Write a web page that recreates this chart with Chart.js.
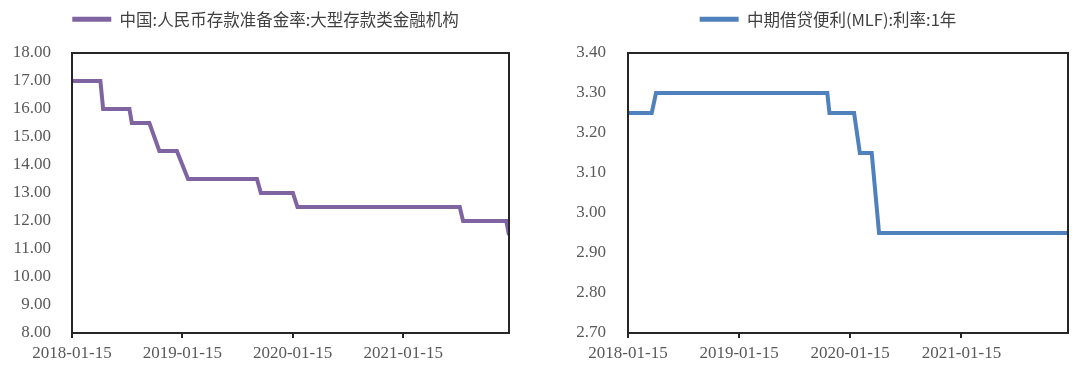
<!DOCTYPE html>
<html lang="zh-CN">
<head>
<meta charset="UTF-8">
<title>存款准备金率与MLF利率</title>
<script src="https://cdn.jsdelivr.net/npm/chart.js@4"></script>
<style>
  body { margin: 0; background: #fff; }
  .wrap { display: flex; width: 1080px; height: 369px; }
  .box { width: 540px; height: 369px; }
</style>
</head>
<body>
<div class="wrap">
  <div class="box"><canvas id="rrrChart" width="540" height="369"></canvas></div>
  <div class="box"><canvas id="mlfChart" width="540" height="369"></canvas></div>
</div>
<script>
// x axis: days counted from startDate
const startDate = '2018-01-15';
const endDate = '2021-12-31';
const xTickDates = ['2018-01-15', '2019-01-15', '2020-01-15', '2021-01-15'];

// left: reserve requirement ratio, large institutions (%)
const rrrLabel = '中国:人民币存款准备金率:大型存款类金融机构';
const rrrDates = ['2018-01-15', '2018-04-19', '2018-04-28', '2018-07-24', '2018-08-01',
  '2018-09-28', '2018-10-31', '2018-12-28', '2019-02-03', '2019-09-19', '2019-10-02',
  '2020-01-16', '2020-01-31', '2021-07-21', '2021-08-01', '2021-12-22', '2021-12-31'];
const rrrValues = [17, 17, 16, 16, 15.5, 15.5, 14.5, 14.5, 13.5, 13.5, 13, 13, 12.5, 12.5, 12, 12, 11.5];
const rrrYMin = 8, rrrYMax = 18, rrrYStep = 1;

// right: MLF 1Y rate (%)
const mlfLabel = '中期借贷便利(MLF):利率:1年';
const mlfDates = ['2018-01-15', '2018-04-03', '2018-04-17', '2019-11-01', '2019-11-08',
  '2020-01-28', '2020-02-16', '2020-03-26', '2020-04-19', '2021-12-31'];
const mlfValues = [3.25, 3.25, 3.30, 3.30, 3.25, 3.25, 3.15, 3.15, 2.95, 2.95];
const mlfYMin = 2.7, mlfYMax = 3.4, mlfYStep = 0.1;

function dayOf(d) {
  return (Date.parse(d) - Date.parse(startDate)) / 86400000;
}

const axisFont = { family: '"Liberation Serif", serif', size: 17 };
const axisColor = '#595959';
const frameColor = '#262626';

// box around the plot area
const framePlugin = {
  id: 'frame',
  afterDraw(chart) {
    const a = chart.chartArea;
    const ctx = chart.ctx;
    ctx.save();
    ctx.strokeStyle = frameColor;
    ctx.lineWidth = 2;
    ctx.strokeRect(a.left, a.top, a.right - a.left, a.bottom - a.top);
    ctx.restore();
  }
};

function makeChart(id, label, dates, values, color, yMin, yMax, yStep, lay) {
  const ctx = document.getElementById(id).getContext('2d');
  return new Chart(ctx, {
    type: 'line',
    data: {
      datasets: [{
        label: label,
        data: dates.map((d, i) => ({ x: dayOf(d), y: values[i] })),
        borderColor: color,
        backgroundColor: color,
        borderWidth: 4,
        pointRadius: 0,
        tension: 0
      }]
    },
    options: {
      responsive: false,
      animation: false,
      devicePixelRatio: 1,
      layout: { padding: { left: 0, right: lay.padRight, top: 0, bottom: 0 } },
      plugins: {
        tooltip: { enabled: false },
        legend: {
          position: 'top',
          align: 'center',
          labels: {
            boxWidth: 39,
            boxHeight: 5,
            padding: 11,
            color: '#404040',
            font: { family: '"Noto Sans CJK SC", sans-serif', size: 16.5 },
            generateLabels(chart) {
              const items = Chart.defaults.plugins.legend.labels.generateLabels(chart);
              return items.map(it => Object.assign(it, { lineWidth: 0, fillStyle: it.strokeStyle }));
            }
          }
        }
      },
      scales: {
        x: {
          type: 'linear',
          min: 0,
          max: dayOf(endDate),
          afterBuildTicks(scale) {
            scale.ticks = xTickDates.map(d => ({ value: dayOf(d) }));
          },
          afterFit(scale) { scale.height = 36; },
          grid: { drawOnChartArea: false, drawTicks: true, tickLength: 5, color: frameColor, lineWidth: 2 },
          border: { display: false },
          ticks: {
            autoSkip: false,
            maxRotation: 0,
            minRotation: 0,
            padding: 5,
            color: axisColor,
            font: axisFont,
            callback: (v, i) => xTickDates[i]
          }
        },
        y: {
          min: yMin,
          max: yMax,
          afterFit(scale) { scale.width = lay.yWidth; },
          grid: { display: false, drawTicks: false },
          border: { display: false },
          ticks: {
            stepSize: yStep,
            padding: lay.yPad,
            color: axisColor,
            font: axisFont,
            callback: v => Number(v).toFixed(2)
          }
        }
      }
    },
    plugins: [framePlugin, {
      id: 'legendPlace',
      beforeLayout(chart) {
        const lg = chart.legend;
        if (lg && !lg._patched) {
          lg._patched = true;
          const baseFit = lg.fit;
          lg.fit = function () {
            baseFit.call(this);
            this.height = 53;
          };
        }
      },
      afterLayout(chart) {
        chart.legend.left += lay.legendShift;
        chart.legend.right += lay.legendShift;
      }
    }]
  });
}

makeChart('rrrChart', rrrLabel, rrrDates, rrrValues, '#8064A2', rrrYMin, rrrYMax, rrrYStep,
  { padRight: 31, yWidth: 72, yPad: 21, legendShift: 11 });
makeChart('mlfChart', mlfLabel, mlfDates, mlfValues, '#4F81BD', mlfYMin, mlfYMax, mlfYStep,
  { padRight: 12, yWidth: 88, yPad: 22, legendShift: 24 });
</script>
</body>
</html>
